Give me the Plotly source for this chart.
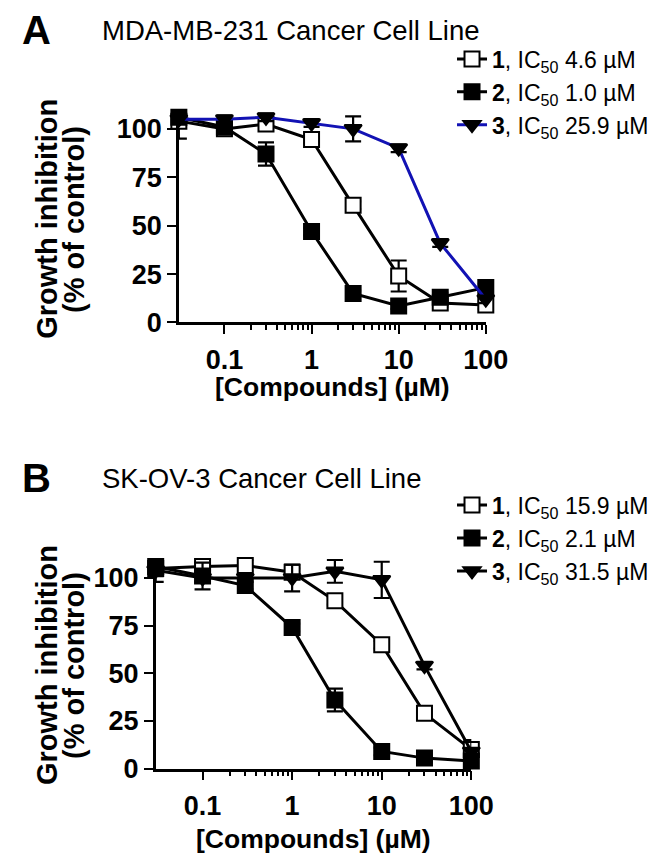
import plotly.graph_objects as go

conc = [0.03, 0.1, 0.3, 1, 3, 10, 30, 100]
xtick_vals = [0.1, 1, 10, 100]
xtick_text = ["0.1", "1", "10", "100"]
ytick_vals = [0, 25, 50, 75, 100]

# Panel A: MDA-MB-231
a1 = [104, 100, 102.5, 94.5, 60.5, 24, 10, 9]
a1_err = [9, 1.5, 2, 2, 2, 8, 2, 2]
a2 = [106, 101, 87, 47, 15, 8.5, 13, 18]
a2_err = [2, 2, 6, 2, 1.5, 1.5, 2, 2]
a3 = [105, 105, 106, 103, 100, 90, 41, 12]
a3_err = [2, 2, 2, 2, 6.5, 2, 2, 2]

# Panel B: SK-OV-3
b1 = [105, 106, 106.5, 103, 88, 65, 29, 10]
b1_err = [7, 2, 3, 2, 2, 2, 2, 2]
b2 = [106, 101, 96, 74, 36, 9, 5.5, 4]
b2_err = [2, 7, 2, 2, 6, 2, 2, 2]
b3 = [104, 100, 100, 100, 103.5, 99, 54, 9]
b3_err = [3, 2, 2, 7, 6, 9.5, 2, 6]

names_a = ["<b>1</b>, IC<sub>50</sub> 4.6 \u00b5M", "<b>2</b>, IC<sub>50</sub> 1.0 \u00b5M", "<b>3</b>, IC<sub>50</sub> 25.9 \u00b5M"]
names_b = ["<b>1</b>, IC<sub>50</sub> 15.9 \u00b5M", "<b>2</b>, IC<sub>50</sub> 2.1 \u00b5M", "<b>3</b>, IC<sub>50</sub> 31.5 \u00b5M"]

FONT = "Liberation Sans, Arial, sans-serif"
W, H = 662, 867
BLUE = "#1212b4"

fig = go.Figure()

def add_series(y, err, name, xa, ya, legend, symbol, fill, linecolor):
    fig.add_trace(go.Scatter(
        x=conc, y=y, name=name, xaxis=xa, yaxis=ya, legend=legend,
        mode="lines+markers",
        line=dict(color=linecolor, width=3),
        marker=dict(symbol=symbol, size=15, color=fill, line=dict(color="black", width=2)),
        error_y=dict(type="data", array=err, visible=True, color="black", thickness=2.2, width=8),
        cliponaxis=False,
    ))

add_series(a1, a1_err, names_a[0], "x", "y", "legend", "square", "white", "black")
add_series(a2, a2_err, names_a[1], "x", "y", "legend", "square", "black", "black")
add_series(a3, a3_err, names_a[2], "x", "y", "legend", "triangle-down", "black", BLUE)
add_series(b1, b1_err, names_b[0], "x2", "y2", "legend2", "square", "white", "black")
add_series(b2, b2_err, names_b[1], "x2", "y2", "legend2", "square", "black", "black")
add_series(b3, b3_err, names_b[2], "x2", "y2", "legend2", "triangle-down", "black", "black")

minor_vals = [m * d for d in (0.1, 1, 10) for m in range(2, 10)]

def xaxis(domain, anchor):
    return dict(
        type="log", domain=domain, anchor=anchor, range=[-1.523, 2.0],
        tickvals=xtick_vals, ticktext=xtick_text,
        ticks="outside", ticklen=9, tickwidth=2, tickcolor="black",
        showline=True, linewidth=2.5, linecolor="black", showgrid=False, zeroline=False,
        tickfont=dict(family=FONT, size=27, color="black", weight="bold"),
        ticklabelstandoff=2,
        minor=dict(tickvals=minor_vals, ticks="outside", ticklen=5, tickwidth=2, tickcolor="black", showgrid=False),
    )

def yaxis(domain, anchor):
    return dict(
        domain=domain, anchor=anchor, range=[0, 110],
        tickvals=ytick_vals, ticks="outside", ticklen=9, tickwidth=2, tickcolor="black",
        showline=True, linewidth=2.5, linecolor="black", showgrid=False, zeroline=False,
        tickfont=dict(family=FONT, size=27, color="black", weight="bold"),
    )

def px_x(p):
    return p / W

def px_y(p):
    return 1 - p / H

leg_font = dict(family=FONT, size=23, color="black")
fig.update_layout(
    width=W, height=H, margin=dict(l=0, r=0, t=0, b=0),
    paper_bgcolor="white", plot_bgcolor="white",
    xaxis=xaxis([px_x(177), px_x(495)], "y"),
    yaxis=yaxis([px_y(320), px_y(320 - 110 * 1.97)], "x"),
    xaxis2=xaxis([px_x(153), px_x(480)], "y2"),
    yaxis2=yaxis([px_y(774), px_y(774 - 110 * 1.94)], "x2"),
    legend=dict(x=px_x(460), y=px_y(30), xanchor="left", yanchor="top",
                font=leg_font, bgcolor="rgba(0,0,0,0)", itemwidth=30, tracegroupgap=0),
    legend2=dict(x=px_x(460), y=px_y(484), xanchor="left", yanchor="top",
                 font=leg_font, bgcolor="rgba(0,0,0,0)", itemwidth=30, tracegroupgap=0),
    showlegend=True,
)

def note(text, x, y, size, bold=False, angle=0, xanchor="center"):
    return dict(text=text, x=px_x(x), y=px_y(y), xref="paper", yref="paper", showarrow=False,
                xanchor=xanchor, yanchor="middle", textangle=angle,
                font=dict(family=FONT, size=size, color="black", weight="bold" if bold else "normal"))

ann = [
    note("A", 30, 22, 40, bold=True),
    note("MDA-MB-231 Cancer Cell Line", 95, 23, 27.5, xanchor="left"),
    note("B", 30, 478, 40, bold=True),
    note("SK-OV-3 Cancer Cell Line", 95, 479, 27.5, xanchor="left"),
    note("Growth inhibition", 41, 215, 29, bold=True, angle=-90),
    note("(% of control)", 69, 215, 29, bold=True, angle=-90),
    note("Growth inhibition", 41, 669, 29, bold=True, angle=-90),
    note("(% of control)", 69, 669, 29, bold=True, angle=-90),
    note("[Compounds] (\u00b5M)", 336, 386, 26.5, bold=True),
    note("[Compounds] (\u00b5M)", 316, 846, 26.5, bold=True),
]
fig.update_layout(annotations=ann)

fig.write_html("out.html")
